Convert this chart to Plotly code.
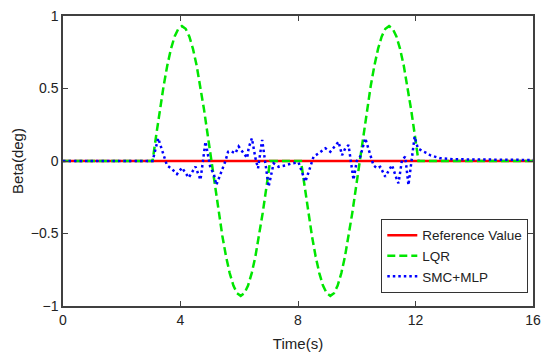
import plotly.graph_objects as go

# Reference value
ref_time = [0, 16]
ref_value = [0, 0]

# LQR response
lqr_time = [0, 3.05, 3.175, 3.3, 3.425, 3.55, 3.675, 3.8, 3.925, 4.05, 4.175, 4.3, 4.425, 4.55, 4.675, 4.8, 4.925,
            5.05, 5.175, 5.3, 5.425, 5.55, 5.675, 5.8, 5.925, 6.05, 6.175, 6.3, 6.425, 6.55, 6.675, 6.8, 6.925,
            7.05, 8.1, 8.225, 8.35, 8.475, 8.6, 8.725, 8.85, 8.975, 9.1, 9.225, 9.35, 9.475, 9.6, 9.725, 9.85, 9.975,
            10.1, 10.225, 10.35, 10.475, 10.6, 10.725, 10.85, 10.975, 11.1, 11.225, 11.35, 11.475, 11.6, 11.725, 11.85, 11.975,
            12.1, 16]
lqr_value = [0, 0, 0.181, 0.356, 0.517, 0.658, 0.773, 0.859, 0.912, 0.93, 0.912, 0.859, 0.773, 0.658, 0.517, 0.356, 0.181,
             0, -0.181, -0.356, -0.517, -0.658, -0.773, -0.859, -0.912, -0.93, -0.912, -0.859, -0.773, -0.658, -0.517, -0.356, -0.181,
             0, 0, -0.181, -0.356, -0.517, -0.658, -0.773, -0.859, -0.912, -0.93, -0.912, -0.859, -0.773, -0.658, -0.517, -0.356, -0.181,
             0, 0.181, 0.356, 0.517, 0.658, 0.773, 0.859, 0.912, 0.93, 0.912, 0.859, 0.773, 0.658, 0.517, 0.356, 0.181,
             0, 0]

# SMC+MLP response
smc_time = [0, 3.05, 3.24, 3.37, 3.45, 3.54, 3.71, 3.88, 4.05, 4.28, 4.51, 4.68, 4.85, 5.02, 5.13, 5.22, 5.53, 5.62,
            5.70, 5.87, 5.98, 6.10, 6.27, 6.32, 6.43, 6.55, 6.64, 6.78, 6.89, 7.00, 7.17, 7.34, 7.57, 7.80, 8.02,
            8.14, 8.25, 8.42, 8.53, 8.70, 8.93, 9.10, 9.27, 9.38, 9.50, 9.61, 9.72, 9.84, 9.89, 10.0, 10.12, 10.29,
            10.46, 10.57, 10.69, 10.80, 10.97, 11.08, 11.20, 11.37, 11.42, 11.54, 11.65, 11.76, 11.88, 11.97, 12.08,
            12.22, 12.39, 12.50, 12.84, 13.3, 14.4, 16]
smc_value = [0, 0, 0.157, 0.076, 0.02, -0.03, -0.055, -0.09, -0.046, -0.115, -0.039, -0.13, 0.133, -0.05, -0.085,
             -0.165, 0.0, 0.064, 0.069, 0.053, 0.10, 0.069, 0.02, 0.09, 0.157, 0.02, -0.05, 0.145, 0.0, -0.177,
             -0.016, -0.04, -0.03, -0.016, -0.01, -0.085, -0.143, -0.04, 0.03, 0.053, 0.088, 0.064, 0.106, 0.133,
             0.04, 0.088, 0.11, -0.05, -0.13, 0.0, 0.03, 0.157, 0.04, -0.03, -0.05, -0.04, -0.108, -0.074, -0.028,
             -0.131, -0.154, 0.007, 0.03, -0.166, 0.007, 0.168, 0.088, 0.07, 0.055, 0.04, 0.019, 0.012, 0.01, 0.007]

x_ticks = [0, 4, 8, 12, 16]
y_ticks = [-1, -0.5, 0, 0.5, 1]

fig = go.Figure()
fig.add_trace(go.Scatter(x=ref_time, y=ref_value, mode="lines", name="Reference Value",
                         line=dict(color="#FF0000", width=2.5)))
fig.add_trace(go.Scatter(x=lqr_time, y=lqr_value, mode="lines", name="LQR",
                         line=dict(color="#00E600", width=2.5, dash="8px,4px")))
fig.add_trace(go.Scatter(x=smc_time, y=smc_value, mode="lines", name="SMC+MLP",
                         line=dict(color="#0000FF", width=2.5, dash="2.5px,3px")))

axis_common = dict(showgrid=False, zeroline=False, showline=True, linecolor="#404040", linewidth=1.5,
                   mirror="ticks", ticks="inside", ticklen=5, tickcolor="#404040", tickwidth=1.2,
                   automargin=False,
                   tickfont=dict(family="Liberation Sans, Arial", size=14, color="#222222"))

fig.update_layout(
    width=550, height=360,
    margin=dict(l=63, r=17, t=16, b=54, autoexpand=False),
    paper_bgcolor="white", plot_bgcolor="white",
    font=dict(family="Liberation Sans, Arial", size=14, color="#222222"),
    xaxis=dict(range=[0, 16], tickvals=x_ticks, ticktext=[str(v) for v in x_ticks],
               title=dict(text="Time(s)", font=dict(size=15), standoff=12), **axis_common),
    yaxis=dict(range=[-1, 1], tickvals=y_ticks, ticktext=["\u22121", "\u22120.5", "0", "0.5", "1"],
               title=dict(text="Beta(deg)", font=dict(size=15), standoff=4), **axis_common),
    legend=dict(x=0.99, y=0.045, xanchor="right", yanchor="bottom", bgcolor="white",
                bordercolor="#333333", borderwidth=1, font=dict(size=13.5),
                itemwidth=30, tracegroupgap=0),
    showlegend=True,
)

fig.write_html("out.html", config={"displayModeBar": False},
               post_script="document.body.style.margin='0';")
